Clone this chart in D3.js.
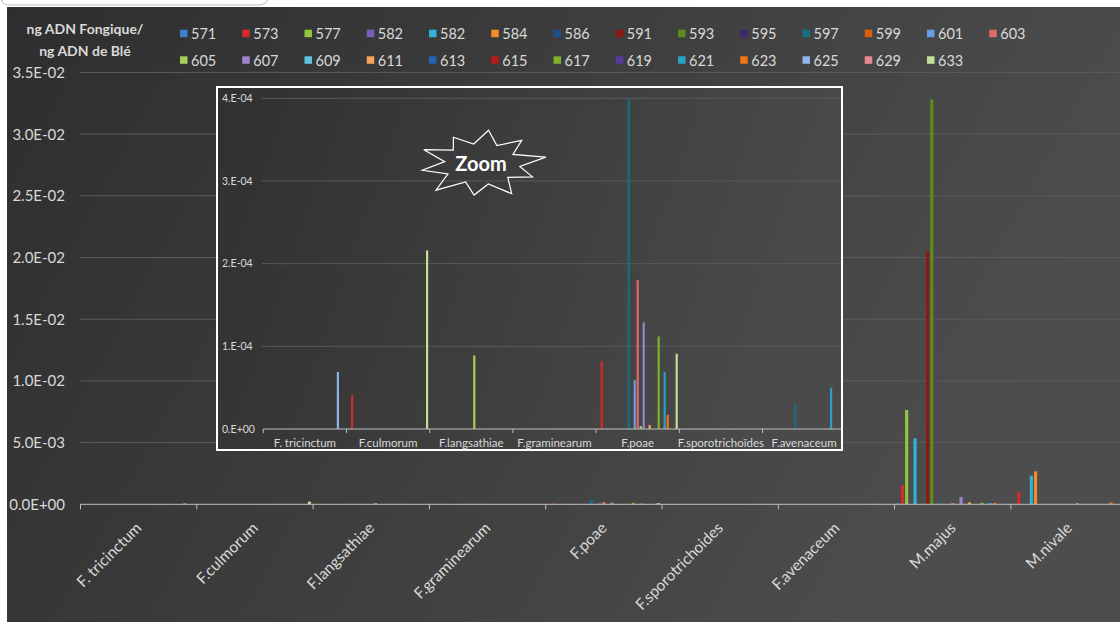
<!DOCTYPE html>
<html><head><meta charset="utf-8">
<script src="https://cdn.jsdelivr.net/npm/d3@7"></script>
<style>
html,body{margin:0;padding:0;background:#fff;}
svg{display:block;font-family:Lato,"Open Sans",sans-serif;}
</style></head>
<body>
<svg id="chart" width="1120" height="622"></svg>
<script>
// ---------- DATA ----------
const categories = ["F. tricinctum","F.culmorum","F.langsathiae","F.graminearum","F.poae","F.sporotrichoides","F.avenaceum","M.majus","M.nivale"];
const insetCategories = ["F. tricinctum","F.culmorum","F.langsathiae","F.graminearum","F.poae","F.sporotrichoïdes","F.avenaceum"];
const seriesNames = ["571","573","577","582","582","584","586","591","593","595","597","599","601","603","605","607","609","611","613","615","617","619","621","623","625","629","633"];
const seriesColors = ["#3d7fd0","#d42a2a","#8ec63f","#7b5cb8","#2fb3d6","#f58a27","#1f4d8c","#8c1a12","#5f8a1c","#3d2870","#166f80","#d9600b","#6a9de8","#e06a6a","#a6d05a","#9a85c9","#5fc3de","#f7a45c","#2563b3","#b51c1c","#7fb22c","#5a3a9a","#2aa0c4","#f07418","#8fb4ea","#e8888f","#c2e09a"];
// one row per series, one value per category (ng ADN fongique / ng ADN de blé)
const seriesValues = [
  [0,0,0,0,0,0,0,0.0001,0],            // 571
  [0,4.1e-5,0,0,8.2e-5,0,0,0.00156,0.00102], // 573
  [0,0,0,0,0,0,0,0.00764,0],           // 577
  [0,0,0,0,0,0,0,0,0],                 // 582
  [0,0,0,0,0,0,0,0.00535,0.00232],     // 582
  [0,0,0,0,0,0,0,0,0.00267],           // 584
  [0,0,0,0,0,0,0,0,0],                 // 586
  [0,0,0,0,0,0,0,0.0205,0],            // 591
  [0,0,0,0,0,0,0,0.0328,0],            // 593
  [0,0,0,0,0,0,0,0,0],                 // 595
  [0,0,0,0,4.0e-4,0,3.0e-5,0.00012,0], // 597
  [0,0,0,0,0,0,0,0,0],                 // 599
  [0,0,0,0,5.9e-5,0,0,0,0],            // 601
  [0,0,0,0,1.8e-4,0,0,0.0001,0],       // 603
  [0,0,8.9e-5,0,3.6e-6,0,0,0,0],       // 605
  [0,0,0,0,1.29e-4,0,0,0.0006,0.0001], // 607
  [0,0,0,0,0,0,0,0,0],                 // 609
  [0,0,0,0,5e-6,0,0,0.00015,0],        // 611
  [0,0,0,0,0,0,0,0,0],                 // 613
  [0,0,0,0,0,0,0,0,0],                 // 615
  [0,0,0,0,1.12e-4,0,0,0.00012,0],     // 617
  [0,0,0,0,0,0,0,0,0],                 // 619
  [0,0,0,0,6.9e-5,0,5.0e-5,0.0001,0],  // 621
  [0,0,0,0,1.7e-5,0,0,0.0001,0.00015], // 623
  [6.9e-5,0,0,0,0,0,0,0,0],            // 625
  [0,0,0,0,0,0,0,0,0],                 // 629
  [0,2.16e-4,0,0,9.1e-5,0,0,0,0]       // 633
];
const mainTicks = [0,0.005,0.01,0.015,0.02,0.025,0.03,0.035];
const mainTickLabels = ["0.0E+00","5.0E-03","1.0E-02","1.5E-02","2.0E-02","2.5E-02","3.0E-02","3.5E-02"];
const insetTicks = [0,1e-4,2e-4,3e-4,4e-4];
const insetTickLabels = ["0.E+00","1.E-04","2.E-04","3.E-04","4.E-04"];
const yTitle = ["ng ADN Fongique/","ng ADN de Blé"];

// ---------- DRAW ----------
const svg = d3.select("#chart");
const defs = svg.append("defs");
const g1 = defs.append("linearGradient").attr("id","bg").attr("x1","0").attr("y1","0").attr("x2","1").attr("y2","0.3");
g1.append("stop").attr("offset","0").attr("stop-color","#2e2e2e");
g1.append("stop").attr("offset","1").attr("stop-color","#4d4d4d");
const g2 = defs.append("linearGradient").attr("id","bg2").attr("x1","0").attr("y1","0").attr("x2","1").attr("y2","0.2");
g2.append("stop").attr("offset","0").attr("stop-color","#303030");
g2.append("stop").attr("offset","1").attr("stop-color","#4a4a4a");

svg.append("rect").attr("x",7).attr("y",7).attr("width",1113).attr("height",615).attr("fill","url(#bg)");
svg.append("path").attr("d","M2,-6 L2,0 Q2,5 9,5 L258,5 Q267,5 268,-2").attr("fill","none").attr("stroke","#b8b8b8").attr("stroke-width",1);

const textCol = "#d9d9d9";

// title
svg.append("g").selectAll("text").data(yTitle).join("text")
  .attr("x",85).attr("y",(d,i)=>34+i*22).attr("text-anchor","middle")
  .attr("font-size",14).attr("font-weight","bold").attr("fill",textCol).text(d=>d);

// legend
const leg = svg.append("g");
seriesNames.forEach((name,i)=>{
  const row = i<14?0:1, col = i<14?i:i-14;
  const gx = 180 + col*62.25, gy = row===0?33.7:60.3;
  leg.append("rect").attr("x",gx).attr("y",gy-4).attr("width",7.5).attr("height",7.5).attr("fill",seriesColors[i]);
  leg.append("text").attr("x",gx+11).attr("y",gy).attr("dy","0.36em").attr("font-size",14.5).attr("fill",textCol).text(name);
});

// main chart scales
const x0 = d3.scaleBand().domain(categories).range([80.5, 80.5+9*116.3]).paddingInner(0).paddingOuter(0);
const x1 = d3.scaleBand().domain(d3.range(seriesNames.length)).range([0, x0.bandwidth()]).paddingInner(0).paddingOuter(0.38);
const y = d3.scaleLinear().domain([0,0.035]).range([504.3, 72.4]);

// gridlines
svg.append("g").selectAll("line").data(mainTicks.slice(1)).join("line")
  .attr("x1",80).attr("x2",1120).attr("y1",d=>y(d)).attr("y2",d=>y(d))
  .attr("stroke","#5c5c5c").attr("stroke-width",1);
// y labels
svg.append("g").selectAll("text").data(mainTicks).join("text")
  .attr("x",65).attr("y",d=>y(d)).attr("dy","0.36em").attr("text-anchor","end")
  .attr("font-size",15).attr("fill",textCol).text((d,i)=>mainTickLabels[i]);

// bars
const bars = [];
seriesValues.forEach((row,s)=>row.forEach((v,c)=>{ if(v>0) bars.push({s,c,v}); }));
const bw = x1.bandwidth()*0.75;
svg.append("g").selectAll("rect").data(bars).join("rect")
  .attr("x",d=>x0(categories[d.c])+x1(d.s)+(x1.bandwidth()-bw)/2)
  .attr("width",bw)
  .attr("y",d=>y(d.v)).attr("height",d=>y(0)-y(d.v))
  .attr("fill",d=>seriesColors[d.s]);

// x axis
const xa = svg.append("g");
xa.append("line").attr("x1",80.5).attr("x2",1120).attr("y1",y(0)).attr("y2",y(0)).attr("stroke","#bfbfbf");
xa.selectAll("line.t").data(d3.range(categories.length+1)).join("line").attr("class","t")
  .attr("x1",i=>80.5+i*x0.step()).attr("x2",i=>80.5+i*x0.step())
  .attr("y1",y(0)).attr("y2",y(0)+5).attr("stroke","#bfbfbf");
xa.selectAll("text").data(categories).join("text")
  .attr("transform",d=>`translate(${x0(d)+x0.bandwidth()/2},${525}) rotate(-45)`)
  .attr("text-anchor","end").attr("dy","0.36em").attr("font-size",15.5).attr("fill",textCol).text(d=>d);

// ---------- INSET ----------
const ins = svg.append("g");
ins.append("rect").attr("x",217).attr("y",87).attr("width",625).attr("height",363)
  .attr("fill","url(#bg2)").attr("stroke","#ffffff").attr("stroke-width",2);
defs.append("clipPath").attr("id","insclip").append("rect").attr("x",218).attr("y",88).attr("width",623).attr("height",361);
const ic = ins.append("g").attr("clip-path","url(#insclip)");
const ix0 = d3.scaleBand().domain(insetCategories).range([263.3, 263.3+7*83.2]).paddingInner(0).paddingOuter(0);
const ix1 = d3.scaleBand().domain(d3.range(seriesNames.length)).range([0, ix0.bandwidth()]).paddingInner(0).paddingOuter(0.37);
const iy = d3.scaleLinear().domain([0,4e-4]).range([429, 98.3]);

ic.selectAll("line.g").data(insetTicks.slice(1)).join("line").attr("class","g")
  .attr("x1",262).attr("x2",842).attr("y1",d=>iy(d)).attr("y2",d=>iy(d)).attr("stroke","#5a5a5a");
ic.selectAll("text.yl").data(insetTicks).join("text").attr("class","yl")
  .attr("x",222).attr("y",d=>iy(d)).attr("dy","0.36em").attr("font-size",10.5).attr("fill",textCol)
  .text((d,i)=>insetTickLabels[i]);

const ibars = bars.filter(d=>d.c<insetCategories.length);
const ibw = ix1.bandwidth()*0.72;
ic.selectAll("rect.b").data(ibars).join("rect").attr("class","b")
  .attr("x",d=>ix0(insetCategories[d.c])+ix1(d.s)+(ix1.bandwidth()-ibw)/2)
  .attr("width",ibw)
  .attr("y",d=>iy(d.v)).attr("height",d=>iy(0)-iy(d.v))
  .attr("fill",d=>seriesColors[d.s]);

ic.append("line").attr("x1",263.3).attr("x2",842).attr("y1",iy(0)).attr("y2",iy(0)).attr("stroke","#bfbfbf");
ic.selectAll("line.t").data(d3.range(insetCategories.length)).join("line").attr("class","t")
  .attr("x1",i=>263.3+i*ix0.step()).attr("x2",i=>263.3+i*ix0.step())
  .attr("y1",iy(0)).attr("y2",iy(0)+4).attr("stroke","#bfbfbf");
ic.selectAll("text.xl").data(insetCategories).join("text").attr("class","xl")
  .attr("x",d=>ix0(d)+ix0.bandwidth()/2).attr("y",443).attr("dy","0.36em")
  .attr("text-anchor","middle").attr("font-size",11.5).attr("fill",textCol).text(d=>d);

// "Zoom" starburst
const cx = 481, cy = 164;
const factors = [1.0,0.6,0.95,0.58,1.05,0.62,0.9,0.58,1.0,0.6,0.92,0.58,1.05,0.6,0.95,0.58,1.0,0.6,0.9,0.6];
const starPts = factors.map((f,i)=>{
  const a = -Math.PI/2 + i*2*Math.PI/factors.length + 0.12;
  return [cx + Math.cos(a)*63*f, cy + Math.sin(a)*34*f];
});
ins.append("polygon").attr("points",starPts.map(p=>p.join(",")).join(" "))
  .attr("fill","none").attr("stroke","#ffffff").attr("stroke-width",1.2);
ins.append("text").attr("x",cx).attr("y",cy).attr("dy","0.36em").attr("text-anchor","middle")
  .attr("font-size",20).attr("font-weight","bold").attr("fill","#ffffff").text("Zoom");
</script>
</body></html>
